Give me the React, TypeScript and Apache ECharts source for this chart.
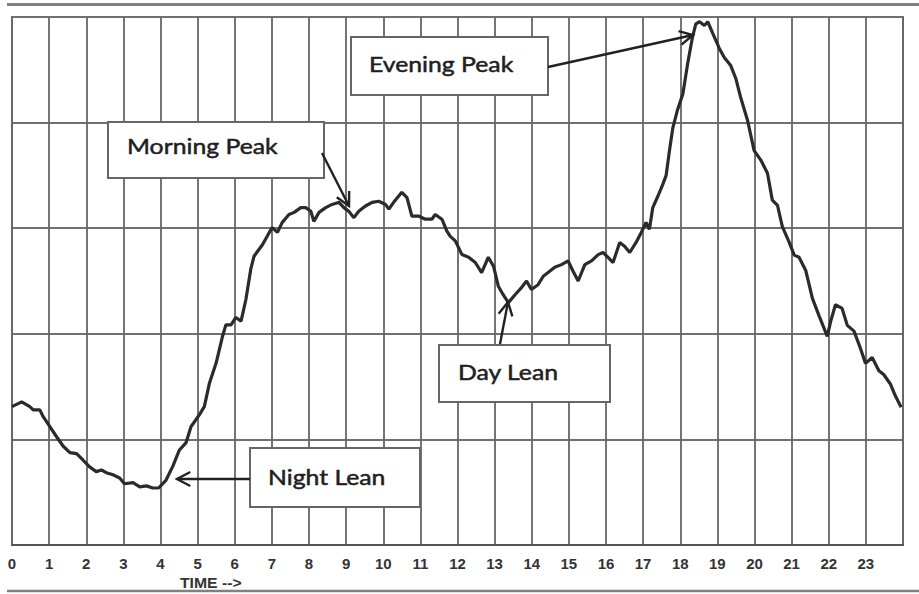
import React, { useEffect, useRef } from "react";
import * as echarts from "echarts";

// Hour of day (x) and relative load (y, 0..100)
const hours = [
  0, 0.26, 0.48, 0.57, 0.75, 0.84, 1.02, 1.2, 1.38, 1.56,
  1.74, 1.91, 2.09, 2.27, 2.41, 2.54, 2.72, 2.9, 3.03, 3.26,
  3.44, 3.62, 3.79, 3.95, 4.15, 4.33, 4.51, 4.69, 4.82, 5.05,
  5.18, 5.32, 5.5, 5.67, 5.76, 5.9, 6.03, 6.17, 6.3, 6.43,
  6.52, 6.75, 6.93, 7.01, 7.15, 7.28, 7.46, 7.6, 7.78, 7.91,
  8.05, 8.13, 8.27, 8.45, 8.62, 8.81, 8.94, 9.07, 9.21, 9.34,
  9.52, 9.7, 9.88, 10.06, 10.15, 10.28, 10.5, 10.64, 10.77, 10.95,
  11.13, 11.31, 11.4, 11.58, 11.71, 11.8, 11.94, 12.12, 12.3, 12.48,
  12.65, 12.83, 12.97, 13.1, 13.23, 13.37, 13.55, 13.73, 13.86, 13.99,
  14.17, 14.31, 14.44, 14.62, 14.8, 14.98, 15.11, 15.25, 15.43, 15.61,
  15.79, 15.92, 16.05, 16.19, 16.37, 16.5, 16.64, 16.81, 16.95, 17.08,
  17.17, 17.26, 17.4, 17.53, 17.62, 17.71, 17.8, 17.93, 18.07, 18.2,
  18.33, 18.42, 18.52, 18.65, 18.74, 18.87, 19.05, 19.19, 19.36, 19.5,
  19.63, 19.81, 19.99, 20.17, 20.35, 20.48, 20.62, 20.75, 20.93, 21.07,
  21.2, 21.38, 21.56, 21.74, 21.96, 22.05, 22.18, 22.36, 22.5, 22.68,
  22.85, 22.99, 23.17, 23.35, 23.48, 23.66, 23.79, 23.95,
];

const load = [
  26.2, 27.1, 26.2, 25.6, 25.6, 24.3, 22.4, 20.5, 18.7, 17.5,
  17.3, 16.1, 14.8, 13.9, 14.2, 13.7, 13.3, 12.7, 11.6, 11.8,
  11.0, 11.2, 10.8, 10.8, 12.3, 14.9, 18.0, 19.4, 22.4, 24.7,
  26.2, 30.7, 34.5, 39.5, 41.7, 41.7, 43.1, 42.4, 46.5, 52.2,
  54.7, 56.9, 59.2, 60.1, 59.2, 61.1, 62.6, 63.0, 63.9, 63.9,
  63.2, 61.3, 63.0, 63.9, 64.5, 64.9, 63.9, 63.2, 62.0, 63.2,
  64.2, 64.9, 65.1, 64.5, 63.6, 64.9, 66.8, 65.8, 62.3, 62.3,
  61.7, 61.7, 62.6, 61.7, 59.5, 58.5, 57.6, 55.0, 54.5, 53.5,
  51.6, 54.5, 52.8, 49.0, 47.4, 45.9, 47.4, 48.8, 50.0, 48.4,
  49.3, 50.9, 51.6, 52.6, 53.1, 53.8, 51.9, 50.0, 53.1, 53.8,
  55.0, 55.4, 54.5, 53.5, 57.3, 56.6, 55.4, 57.3, 59.2, 61.1,
  59.8, 63.9, 66.1, 68.3, 70.0, 74.7, 79.0, 82.5, 85.4, 91.2,
  96.2, 98.7, 99.1, 98.4, 99.1, 97.0, 94.1, 92.3, 90.8, 88.3,
  84.7, 80.5, 74.7, 72.9, 70.4, 65.3, 64.3, 60.3, 57.4, 54.9,
  54.5, 52.0, 46.7, 43.4, 39.5, 42.3, 45.5, 44.8, 41.6, 40.5,
  37.3, 34.4, 35.5, 33.0, 32.3, 30.5, 28.3, 26.1,
];

const hourLabels = [
  "0", "1", "2", "3", "4", "5", "6", "7", "8", "9", "10", "11",
  "12", "13", "14", "15", "16", "17", "18", "19", "20", "21", "22", "23",
];

const annotationTexts = ["Morning Peak", "Evening Peak", "Day Lean", "Night Lean"];

function arrow(x1: number, y1: number, x2: number, y2: number) {
  const a = Math.atan2(y2 - y1, x2 - x1);
  const L = 15;
  const w = Math.PI / 6.5;
  const style = { stroke: "#222", lineWidth: 2.4, fill: "none" };
  return [
    { type: "line", z: 101, shape: { x1, y1, x2, y2 }, style },
    {
      type: "polyline",
      z: 101,
      shape: {
        points: [
          [x2 - L * Math.cos(a - w), y2 - L * Math.sin(a - w)],
          [x2, y2],
          [x2 - L * Math.cos(a + w), y2 - L * Math.sin(a + w)],
        ],
      },
      style,
    },
  ];
}

function box(x: number, y: number, w: number, h: number, text: string, tx: number, ty: number) {
  return [
    {
      type: "rect",
      z: 100,
      shape: { x, y, width: w, height: h },
      style: { fill: "#fff", stroke: "#666", lineWidth: 2 },
    },
    {
      type: "text",
      z: 102,
      x: tx,
      y: ty,
      scaleX: 1.18,
      style: {
        text,
        fill: "#1f1f1f",
        stroke: "#1f1f1f",
        lineWidth: 0.5,
        fontFamily: "Lato",
        fontSize: 21,
        align: "left",
        verticalAlign: "middle",
      },
    },
  ];
}

export default function App() {
  const ref = useRef<HTMLDivElement>(null);

  useEffect(() => {
    if (!ref.current) return;
    const chart = echarts.init(ref.current, undefined, { renderer: "svg" });
    const data = hours.map((h, i) => [h, load[i]]);

    const graphic: any[] = [
      { type: "line", shape: { x1: 7, y1: 4.5, x2: 919, y2: 4.5 }, style: { stroke: "#808080", lineWidth: 3 } },
      { type: "line", shape: { x1: 7, y1: 591, x2: 919, y2: 591 }, style: { stroke: "#808080", lineWidth: 2.5 } },
      {
        type: "text",
        x: 180,
        y: 583,
        scaleX: 1.05,
        style: {
          text: "TIME -->",
          fill: "#333",
          fontFamily: "Liberation Sans",
          fontWeight: "bold",
          fontSize: 15,
          align: "left",
          verticalAlign: "middle",
        },
      },
      ...box(108, 122, 216, 56, annotationTexts[0], 127, 146),
      ...arrow(322, 153, 349, 206),
      ...box(351, 37, 197, 58, annotationTexts[1], 369, 64),
      ...arrow(548, 67, 693, 35),
      ...box(439, 345, 171, 57, annotationTexts[2], 458, 372),
      ...arrow(500, 344, 508, 302),
      ...box(250, 448, 170, 59, annotationTexts[3], 268, 477),
      ...arrow(250, 479, 177, 479),
    ];

    chart.setOption({
      animation: false,
      backgroundColor: "#fff",
      grid: {
        left: 12,
        right: 16,
        top: 17,
        bottom: 49,
        show: true,
        borderColor: "#777",
        borderWidth: 2,
        backgroundColor: "transparent",
      },
      xAxis: {
        type: "value",
        min: 0,
        max: 24,
        interval: 1,
        axisLine: { show: true, lineStyle: { color: "#555", width: 2 } },
        axisTick: { show: false },
        axisLabel: {
          margin: 11,
          color: "#333",
          fontFamily: "Liberation Sans",
          fontWeight: "bold",
          fontSize: 15,
          formatter: (v: number) => hourLabels[v] ?? "",
        },
        splitLine: { show: true, lineStyle: { color: "#666", width: 1.8 } },
      },
      yAxis: {
        type: "value",
        min: 0,
        max: 100,
        interval: 20,
        axisLine: { show: false },
        axisTick: { show: false },
        axisLabel: { show: false },
        splitLine: { show: true, lineStyle: { color: "#707070", width: 1.8 } },
      },
      series: [
        {
          type: "line",
          data,
          showSymbol: false,
          smooth: false,
          lineStyle: { color: "#2b2b2b", width: 3.2 },
          z: 5,
        },
      ],
      graphic,
    });

    return () => chart.dispose();
  }, []);

  return (
    <div
      ref={ref}
      style={{ position: "absolute", left: 0, top: 0, width: 919, height: 594, background: "#fff" }}
    />
  );
}
